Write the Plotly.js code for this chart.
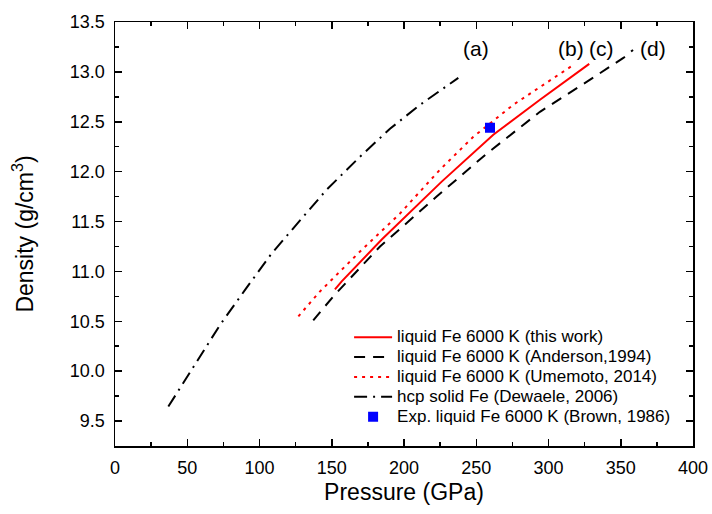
<!DOCTYPE html>
<html>
<head>
<meta charset="utf-8">
<script src="https://cdn.plot.ly/plotly-3.0.1.min.js"></script>
<style>html,body{margin:0;padding:0;background:#fff;}#chart{width:712px;height:514px;}</style>
</head>
<body>
<div id="chart"></div>
<script>
// hcp solid Fe (Dewaele, 2006)
const hcpP   = [36.9, 56.5, 72.7, 90.0, 108.4, 129.2, 146.5, 169.6, 190.3, 211.1, 237.6];
const hcpRho = [9.645, 10.096, 10.464, 10.815, 11.18, 11.53, 11.82, 12.15, 12.43, 12.67, 12.94];
// liquid Fe 6000 K (this work)
const thisP   = [152.2, 156.9, 184.6, 226.1, 261.8, 294.1, 328.2];
const thisRho = [10.82, 10.90, 11.32, 11.90, 12.37, 12.72, 13.08];
// liquid Fe 6000 K (Anderson, 1994)
const andP   = [137.2, 151.1, 183.4, 222.6, 257.2, 294.1, 326.4, 351.8, 358.5];
const andRho = [10.51, 10.75, 11.25, 11.75, 12.18, 12.60, 12.90, 13.14, 13.22];
// liquid Fe 6000 K (Umemoto, 2014)
const umeP   = [126.9, 141.9, 169.6, 197.2, 224.9, 248.0, 275.6, 303.3, 318.3];
const umeRho = [10.55, 10.80, 11.20, 11.58, 12.02, 12.35, 12.67, 12.94, 13.08];
// Exp. liquid Fe 6000 K (Brown, 1986)
const expP   = [259.5];
const expRho = [12.44];
// series names
const names = [
  'liquid Fe 6000 K (this work)',
  'liquid Fe 6000 K (Anderson,1994)',
  'liquid Fe 6000 K (Umemoto, 2014)',
  'hcp solid Fe (Dewaele, 2006)',
  'Exp. liquid Fe 6000 K (Brown, 1986)'
];
// curve labels
const labelText = ["(a)", "(b)", "(c)", "(d)"];
const labelP    = [249.8, 315.6, 337.0, 372.3];
const labelRho  = [13.23, 13.23, 13.23, 13.23];

const FONT = 'Liberation Sans, Arial, sans-serif';
const nm = s => '<span style="font-size:17px">' + s + '</span>';

const traces = [
  {x: thisP, y: thisRho, mode: 'lines', name: nm(names[0]),
   line: {color: '#ff0000', width: 2}},
  {x: andP, y: andRho, mode: 'lines', name: nm(names[1]),
   line: {color: '#000000', width: 2, dash: '11px,8px'}},
  {x: umeP, y: umeRho, mode: 'lines', name: nm(names[2]),
   line: {color: '#ff0000', width: 2, dash: '3px,5px'}},
  {x: hcpP, y: hcpRho, mode: 'lines', name: nm(names[3]),
   line: {color: '#000000', width: 2, dash: '13px,6px,2px,6px'}},
  {x: expP, y: expRho, mode: 'markers', name: nm(names[4]),
   marker: {symbol: 'square', size: 10, color: '#0000ff'}}
];

const annotations = labelText.map((t, i) => ({
  x: labelP[i], y: labelRho[i], xref: 'x', yref: 'y', text: t, showarrow: false,
  font: {family: FONT, size: 21, color: '#000'}
}));

const axisCommon = {
  showline: true, linecolor: '#000', linewidth: 1.5, mirror: 'ticks',
  ticks: 'inside', ticklen: 7, tickwidth: 1.5, tickcolor: '#000',
  showgrid: false, zeroline: false,
  tickfont: {family: FONT, size: 18, color: '#000'}
};

const layout = {
  width: 712, height: 514,
  margin: {l: 115, r: 19, t: 22, b: 68},
  paper_bgcolor: '#fff', plot_bgcolor: '#fff',
  showlegend: true,
  legend: {x: 0.405, y: 0.292, xanchor: 'left', yanchor: 'top', bgcolor: 'rgba(0,0,0,0)',
    itemwidth: 38,
    font: {family: FONT, size: 13, color: '#000'}, tracegroupgap: 0},
  xaxis: Object.assign({}, axisCommon, {
    range: [0, 400], tick0: 0, dtick: 50, ticklabelstandoff: 5,
    minor: {dtick: 25, ticks: 'inside', ticklen: 4, tickwidth: 1.5, tickcolor: '#000'},
    title: {text: 'Pressure (GPa)', standoff: 7,
      font: {family: FONT, size: 23, color: '#000'}}
  }),
  yaxis: Object.assign({}, axisCommon, {
    range: [9.25, 13.5], tick0: 9.5, dtick: 0.5, tickformat: '.1f', ticklabelstandoff: 5,
    minor: {dtick: 0.25, ticks: 'inside', ticklen: 4, tickwidth: 1.5, tickcolor: '#000'},
    title: {text: 'Density (g/cm<sup>3</sup>)', standoff: 30,
      font: {family: FONT, size: 23, color: '#000'}}
  }),
  annotations: annotations
};

Plotly.newPlot('chart', traces, layout, {displayModeBar: false, staticPlot: true});
</script>
</body>
</html>
